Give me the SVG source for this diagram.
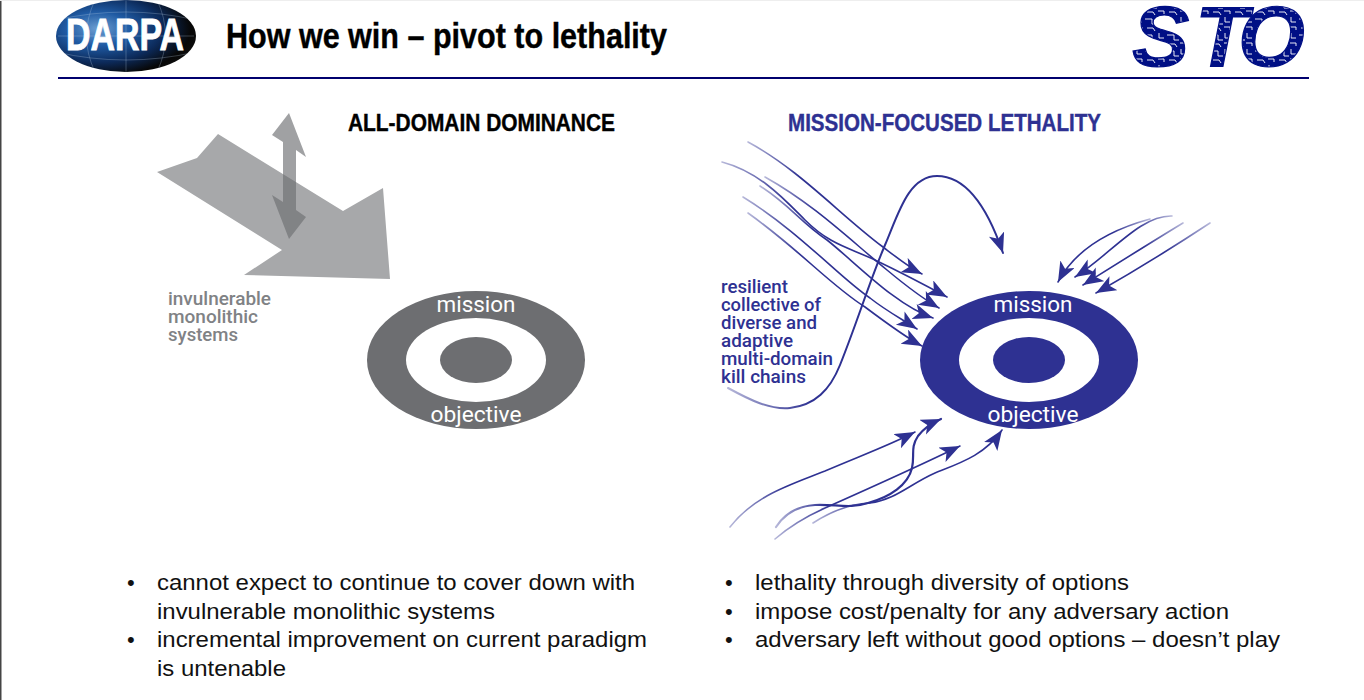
<svg xmlns="http://www.w3.org/2000/svg" width="1364" height="700" viewBox="0 0 1364 700">
<style>
.title{font-family:"Liberation Sans",Arial,sans-serif;font-weight:700;stroke-width:.4}
.lbl{font-family:Roboto,"Liberation Sans",sans-serif;font-weight:500}
.w{fill:#fff;font-size:22px;text-anchor:middle}
.bul{font-family:"Liberation Sans",Arial,sans-serif;font-size:22px;fill:#111}
.c{fill:none;stroke-width:1.6;stroke-linecap:round}
.lr{stroke:url(#fadeL);marker-end:url(#ah)}
.rl{stroke:url(#fadeR);marker-end:url(#ah)}
</style>
<defs>
<marker id="ah" markerUnits="userSpaceOnUse" markerWidth="24" markerHeight="18" refX="20" refY="8" orient="auto">
<path d="M20 8 L0 0 L5 8 L0 16 Z" fill="#2e3192"/>
</marker>
<linearGradient id="fadeL" x1="0" x2="1" y1="0" y2="0"><stop offset="0" stop-color="#2e3192" stop-opacity=".35"/><stop offset=".3" stop-color="#2e3192"/></linearGradient>
<linearGradient id="fadeR" x1="1" x2="0" y1="0" y2="0"><stop offset="0" stop-color="#2e3192" stop-opacity=".35"/><stop offset=".4" stop-color="#2e3192"/></linearGradient>
<radialGradient id="globe" cx=".3" cy=".4" r=".78"><stop offset="0" stop-color="#6c9fd2"/><stop offset=".3" stop-color="#1f5aa3"/><stop offset=".6" stop-color="#0c2a5a"/><stop offset=".85" stop-color="#070707"/><stop offset="1" stop-color="#111"/></radialGradient>
<clipPath id="globeClip"><ellipse cx="126" cy="36" rx="70" ry="36"/></clipPath>
<pattern id="circuit" patternUnits="userSpaceOnUse" width="22" height="16">
<rect width="22" height="16" fill="#000f85"/>
<path d="M1 3h7v5h5M15 1v5h5M3 12h6l2 3M14 11h6v3" fill="none" stroke="#fff" stroke-width=".9"/>
</pattern>
</defs>
<rect width="1364" height="700" fill="#fff"/>
<rect x="0" y="0" width="1.5" height="700" fill="#444"/>
<rect x="0" y="0" width="1364" height="1" fill="#eee"/>
<g id="logo-darpa">
<ellipse cx="126" cy="36" rx="70" ry="36" fill="url(#globe)"/>
<g clip-path="url(#globeClip)" fill="none" stroke="#bcd0e6" stroke-opacity=".4" stroke-width=".7">
<path d="M56 20Q126 4 196 20M56 52Q126 68 196 52M58 36H194M95 0Q78 36 95 72M126 0V72M157 0Q174 36 157 72"/>
</g>
<text x="66" y="50" font-family="Liberation Sans,Arial,sans-serif" font-weight="700" font-size="45" fill="#fff" stroke="#fff" stroke-width=".9" textLength="118" lengthAdjust="spacingAndGlyphs">DARPA</text>
</g>
<g id="title">
<text class="title" x="226" y="48" font-size="35" fill="#000" stroke="#000" textLength="441" lengthAdjust="spacingAndGlyphs">How we win – pivot to lethality</text>
</g>
<g id="logo-sto">
<text x="1132 1195 1238" y="66" font-family="Liberation Sans,Arial,sans-serif" font-weight="700" font-style="italic" font-size="86" fill="url(#circuit)" stroke="#000f85" stroke-width="1.2">STO</text>
</g>
<rect id="rule" x="58" y="77" width="1251" height="2" fill="#00006e"/>
<g id="heading-left"><text class="title" x="348" y="131" font-size="24" fill="#000" stroke="#000" textLength="267" lengthAdjust="spacingAndGlyphs">ALL-DOMAIN DOMINANCE</text></g>
<g id="heading-right"><text class="title" x="788" y="131" font-size="24" fill="#2e3192" stroke="#2e3192" textLength="313" lengthAdjust="spacingAndGlyphs">MISSION-FOCUSED LETHALITY</text></g>
<g id="big-arrow"><polygon points="157,172 197,158 218,134 343,211 383,188 390,279 244,275 282,250" fill="#a7a8aa"/></g>
<g id="double-arrow"><polygon points="289,113 306,157 296,150 296,210 306,217 289,239 272,195 283,202 283,142 272,135" fill="#6d6e71" fill-opacity=".65"/></g>
<g id="label-invulnerable" class="lbl" font-size="19" fill="#808285">
<text x="168" y="305" textLength="103" lengthAdjust="spacingAndGlyphs">invulnerable</text>
<text x="168" y="323" textLength="90" lengthAdjust="spacingAndGlyphs">monolithic</text>
<text x="168" y="341" textLength="70" lengthAdjust="spacingAndGlyphs">systems</text>
</g>
<g id="target-left">
<ellipse cx="476" cy="360" rx="109" ry="69" fill="#6d6e71"/>
<ellipse cx="476" cy="360" rx="70" ry="42" fill="#fff"/>
<ellipse cx="476" cy="360" rx="36" ry="23" fill="#6d6e71"/>
<text class="lbl w" x="476" y="312" style="font-weight:400" textLength="79" lengthAdjust="spacingAndGlyphs">mission</text>
<text class="lbl w" x="476" y="422" style="font-weight:400" textLength="91" lengthAdjust="spacingAndGlyphs">objective</text>
</g>
<g id="target-right">
<ellipse cx="1029" cy="360" rx="109" ry="69" fill="#2e3192"/>
<ellipse cx="1029" cy="360" rx="70" ry="42" fill="#fff"/>
<ellipse cx="1029" cy="360" rx="36" ry="23" fill="#2e3192"/>
<text class="lbl w" x="1033" y="312" style="font-weight:400" textLength="79" lengthAdjust="spacingAndGlyphs">mission</text>
<text class="lbl w" x="1033" y="422" style="font-weight:400" textLength="91" lengthAdjust="spacingAndGlyphs">objective</text>
</g>
<g id="label-resilient" class="lbl" font-size="19" fill="#2e3192">
<text x="721" y="293" textLength="67" lengthAdjust="spacingAndGlyphs">resilient</text>
<text x="721" y="311" textLength="100" lengthAdjust="spacingAndGlyphs">collective of</text>
<text x="721" y="329" textLength="96" lengthAdjust="spacingAndGlyphs">diverse and</text>
<text x="721" y="347" textLength="72" lengthAdjust="spacingAndGlyphs">adaptive</text>
<text x="721" y="365" textLength="112" lengthAdjust="spacingAndGlyphs">multi-domain</text>
<text x="721" y="383" textLength="85" lengthAdjust="spacingAndGlyphs">kill chains</text>
</g>
<g id="connectors">
<path class="c lr" d="M748 142C800 170 840 215 883 247C900 260 910 268 922 274"/>
<path class="c lr" d="M722 162C760 172 785 200 805 220C830 245 850 248 875 260C900 272 925 285 947 297"/>
<path class="c lr" d="M765 177C815 205 850 240 887 270C905 285 922 298 939 308"/>
<path class="c lr" d="M760 186C790 205 800 222 827 240C855 262 895 305 933 318"/>
<path class="c lr" d="M743 197C800 232 840 278 870 298C885 310 900 318 917 329"/>
<path class="c lr" d="M748 213C800 250 830 285 865 307C885 322 905 337 922 346"/>
<path class="c lr" style="stroke-width:2" d="M728 388C750 400 770 410 790 408C815 405 830 390 840 365C858 320 870 280 885 245C898 215 908 176 937 176C970 176 990 215 1003 253"/>
<path class="c rl" d="M1150 219C1110 230 1075 250 1058 282"/>
<path class="c rl" d="M1172 216C1140 215 1110 255 1075 277"/>
<path class="c rl" d="M1183 223C1150 243 1115 265 1083 285"/>
<path class="c rl" d="M1210 223C1172 248 1133 272 1096 293"/>
<path class="c lr" d="M730 527C755 495 790 485 825 471C860 456 890 445 915 432"/>
<path class="c lr" style="stroke-width:2.2" d="M776 527C785 513 797 506 815 505C835 504 850 509 868 503C890 497 908 485 912 468C915 455 910 448 918 436C924 428 932 423 941 419"/>
<path class="c lr" d="M775 539C790 526 805 517 825 508C870 488 915 468 960 446"/>
<path class="c lr" d="M813 523C830 512 848 504 870 503C895 500 910 484 935 473C960 463 985 455 1002 430"/>
</g>
<g id="bullets-left" class="bul">
<text x="127" y="590">•</text><text x="157" y="590" textLength="478" lengthAdjust="spacingAndGlyphs">cannot expect to continue to cover down with</text>
<text x="157" y="619" textLength="338" lengthAdjust="spacingAndGlyphs">invulnerable monolithic systems</text>
<text x="127" y="647">•</text><text x="157" y="647" textLength="490" lengthAdjust="spacingAndGlyphs">incremental improvement on current paradigm</text>
<text x="157" y="676" textLength="129" lengthAdjust="spacingAndGlyphs">is untenable</text>
</g>
<g id="bullets-right" class="bul">
<text x="725" y="590">•</text><text x="755" y="590" textLength="374" lengthAdjust="spacingAndGlyphs">lethality through diversity of options</text>
<text x="725" y="619">•</text><text x="755" y="619" textLength="474" lengthAdjust="spacingAndGlyphs">impose cost/penalty for any adversary action</text>
<text x="725" y="647">•</text><text x="755" y="647" textLength="525" lengthAdjust="spacingAndGlyphs">adversary left without good options – doesn’t play</text>
</g>
</svg>
